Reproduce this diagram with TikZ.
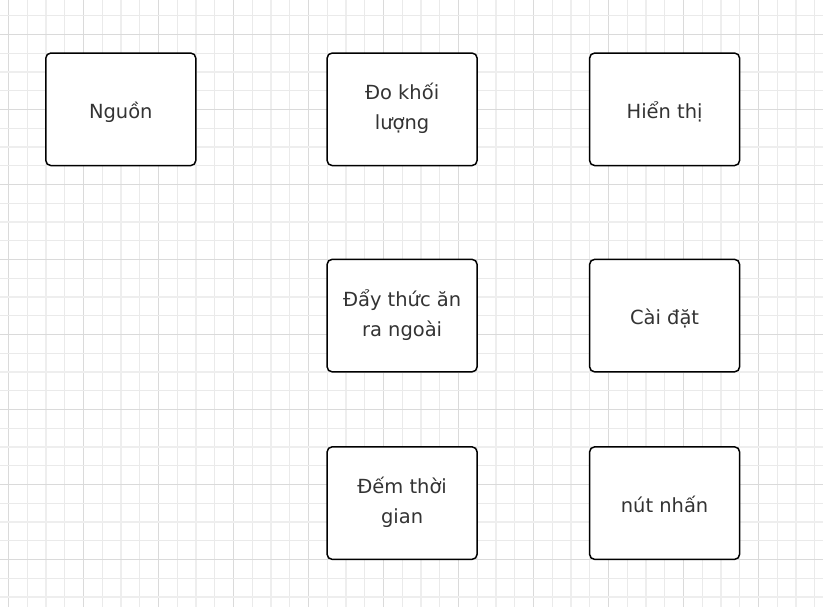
\documentclass[tikz,border=0pt]{standalone}
\usepackage{fontspec}
\setmainfont{DejaVu Sans}
\definecolor{gridA}{HTML}{DADADA}
\definecolor{gridB}{HTML}{EAEAEA}
\definecolor{gridC}{HTML}{EEEEEE}
\definecolor{txt}{HTML}{333333}
\begin{document}
\begin{tikzpicture}[x=0.75pt,y=-0.75pt,
  blk/.style={draw=black,line width=1.1pt,rounded corners=3.8pt,fill=white,
    minimum width=112.5pt,minimum height=84.4pt,inner sep=0pt,
    align=center,text=txt,font=\fontsize{14.6pt}{22.5pt}\selectfont,
    execute at begin node={\rule{0pt}{18pt}},
    execute at end node={\rule[-4.5pt]{0pt}{0pt}}},
  gthin/.style={draw=gridB,line width=0.75pt},
  gdark/.style={draw=gridA,line width=0.75pt},
  gthick/.style={draw=gridC,line width=1.4pt}]
\useasboundingbox (0,0) rectangle (823,607);
\fill[white] (0,0) rectangle (823,607);
% vertical grid lines
\foreach \k in {0,...,43}{
  \pgfmathsetmacro{\xx}{8.3+18.75*\k}
  \pgfmathtruncatemacro{\m}{mod(\k,4)}
  \ifnum\m=0 \draw[gdark] (\xx,0) -- (\xx,607);
  \else\ifnum\m=2 \draw[gthick] (\xx,0) -- (\xx,607);
  \else \draw[gthin] (\xx,0) -- (\xx,607);
  \fi\fi
}
% horizontal grid lines
\foreach \k in {0,...,31}{
  \pgfmathsetmacro{\yy}{15.55+18.75*\k}
  \pgfmathtruncatemacro{\m}{mod(\k,4)}
  \ifnum\m=1 \draw[gdark] (0,\yy) -- (823,\yy);
  \else\ifnum\m=3 \draw[gthick] (0,\yy) -- (823,\yy);
  \else \draw[gthin] (0,\yy) -- (823,\yy);
  \fi\fi
}
% boxes
\node[blk] (nguon)   at (120.8,109.3) {Nguồn};
\node[blk] (dokl)    at (402.1,109.3) {Đo khối\\lượng};
\node[blk] (hienthi) at (664.6,109.3) {Hiển thị};
\node[blk] (day)     at (402.1,315.6) {Đẩy thức ăn\\ra ngoài};
\node[blk] (caidat)  at (664.6,315.6) {Cài đặt};
\node[blk] (dem)     at (402.1,503.1) {Đếm thời\\gian};
\node[blk] (nut)     at (664.6,503.1) {nút nhấn};
\end{tikzpicture}
\end{document}
